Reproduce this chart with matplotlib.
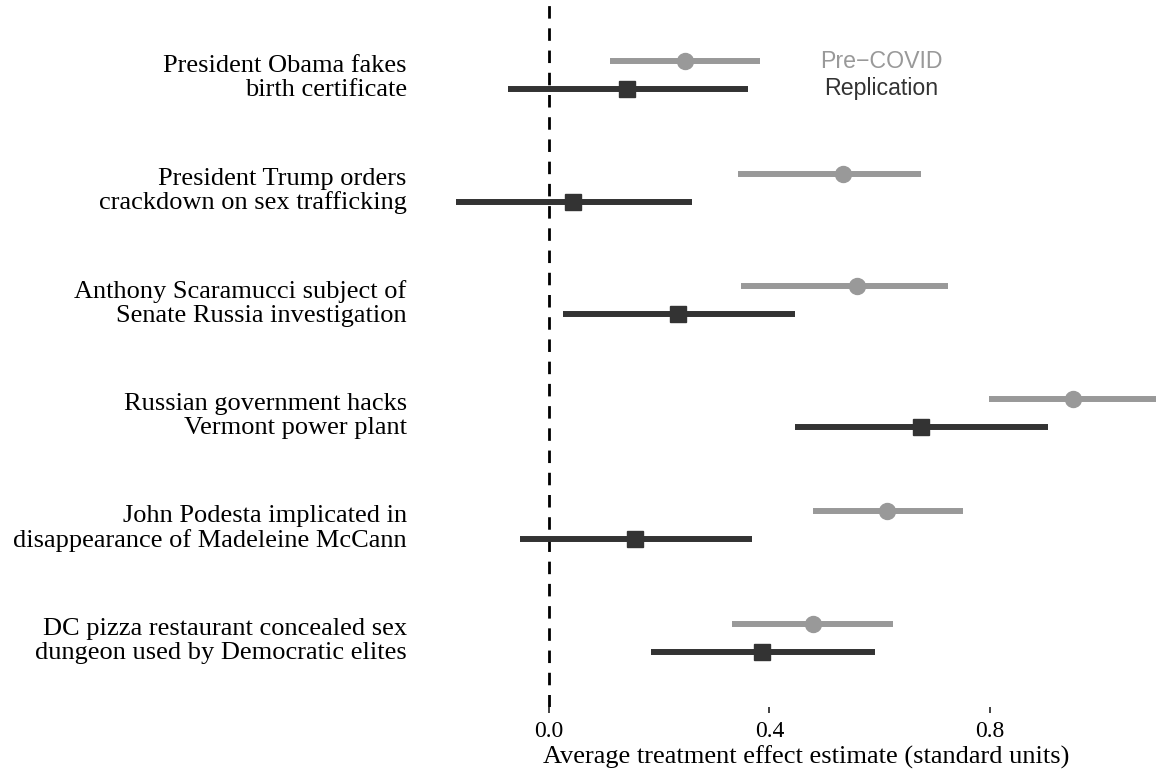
import matplotlib
matplotlib.use("Agg")
import matplotlib.pyplot as plt
import numpy as np

# Stories, top to bottom
stories = [
    "President Obama fakes\nbirth certificate",
    "President Trump orders\ncrackdown on sex trafficking",
    "Anthony Scaramucci subject of\nSenate Russia investigation",
    "Russian government hacks\nVermont power plant",
    "John Podesta implicated in\ndisappearance of Madeleine McCann",
    "DC pizza restaurant concealed sex\ndungeon used by Democratic elites",
]

# Pre-COVID estimates and 95% intervals
pre_est = [0.247, 0.534, 0.559, 0.951, 0.613, 0.479]
pre_lo = [0.111, 0.343, 0.348, 0.799, 0.479, 0.332]
pre_hi = [0.383, 0.675, 0.724, 1.120, 0.751, 0.624]

# Replication estimates and 95% intervals
rep_est = [0.142, 0.044, 0.234, 0.675, 0.156, 0.387]
rep_lo = [-0.074, -0.169, 0.025, 0.446, -0.053, 0.185]
rep_hi = [0.361, 0.260, 0.446, 0.906, 0.368, 0.592]

x_ticks = [0.0, 0.4, 0.8]
x_ticklabels = ["0.0", "0.4", "0.8"]

PRE_COL = "#999999"
REP_COL = "#333333"

W, H = 1156, 776
left_px, bottom_px = 415, 707

fig = plt.figure(figsize=(W / 100, H / 100), dpi=100)
ax = fig.add_axes([left_px / W, 1 - bottom_px / H, (W - left_px) / W, bottom_px / H])

n = len(stories)
centers = np.arange(n)[::-1].astype(float)
off = 0.124

ax.axvline(0, color="black", lw=2.0, ls=(0, (4.5, 3.5)), zorder=1)

ax.hlines(centers + off, pre_lo, pre_hi, color=PRE_COL, lw=4.3, zorder=2)
ax.plot(pre_est, centers + off, "o", color=PRE_COL, ms=11.5, zorder=3)
ax.hlines(centers - off, rep_lo, rep_hi, color=REP_COL, lw=4.3, zorder=2)
ax.plot(rep_est, centers - off, "s", color=REP_COL, ms=11.5, zorder=3)

ax.set_xlim((left_px - 549) / 551, (W - 549) / 551)
ax.set_ylim(-(bottom_px - 638) / 112.6, 5 + 75 / 112.6)

ax.text(0.603, centers[0] + off, "Pre\u2212COVID", color=PRE_COL, fontsize=16.7,
        family="Liberation Sans", ha="center", va="center")
ax.text(0.603, centers[0] - off, "Replication", color=REP_COL, fontsize=16.7,
        family="Liberation Sans", ha="center", va="center")

ax.set_yticks(centers)
ax.set_yticklabels(stories, family="Liberation Serif", fontsize=19,
                   linespacing=1.1)
ax.set_xticks(x_ticks)
ax.set_xticklabels(x_ticklabels, family="Liberation Serif", fontsize=17)
ax.tick_params(axis="y", length=0, pad=6)
ax.tick_params(axis="x", length=4, width=1.3, color="#333333", pad=6)
ax.set_xlabel("Average treatment effect estimate (standard units)",
              family="Liberation Serif", fontsize=19)
ax.xaxis.set_label_coords((806 - left_px) / (W - left_px), -(764 - bottom_px) / bottom_px)
ax.xaxis.label.set_va("baseline")

for s in ax.spines.values():
    s.set_visible(False)

fig.savefig("out.png", dpi=100)
